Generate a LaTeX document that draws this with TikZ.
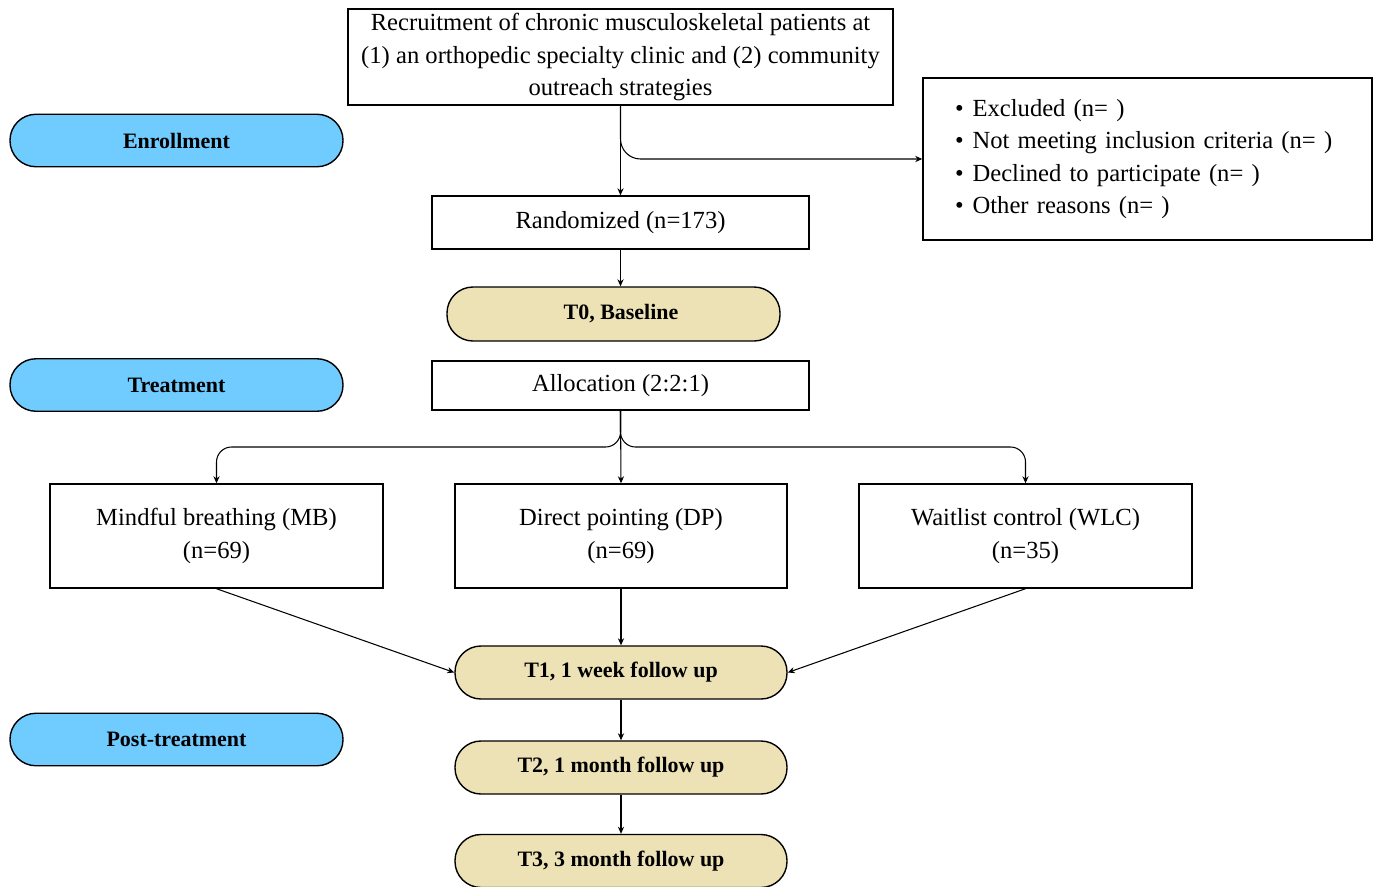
\documentclass[tikz,border=0pt]{standalone}
\usepackage{fontspec}
\setmainfont{Liberation Serif}
\usepackage{tikz}
\usetikzlibrary{arrows.meta,positioning}

\definecolor{phaseblue}{RGB}{112,203,255}
\definecolor{timetan}{RGB}{237,226,182}

\begin{document}
\begin{tikzpicture}[
  box/.style={rectangle, draw, line width=0.8pt, align=center, inner sep=0pt, font=\fontsize{14}{18.5}\selectfont},
  phase/.style={rectangle, draw, line width=0.8pt, rounded corners=0.52cm, fill=phaseblue, minimum width=6.66cm, minimum height=1.05cm, inner sep=0pt, font=\fontsize{12.5}{15}\selectfont\bfseries},
  timept/.style={rectangle, draw, line width=0.8pt, rounded corners=0.52cm, fill=timetan, minimum width=6.64cm, minimum height=1.06cm, inner sep=0pt, font=\fontsize{12.5}{15}\selectfont\bfseries},
  arr/.style={-{Stealth[length=4pt,width=3.5pt]}, line width=0.6pt}
]
\useasboundingbox (0,0) rectangle (27.52,-17.72);

% Phase labels (left column)
\node[phase] (enroll) at (3.53,-2.81) {Enrollment};
\node[phase] (treat) at (3.53,-7.70) {Treatment};
\node[phase] (post) at (3.53,-14.79) {Post-treatment};

% Enrollment
\node[box, minimum width=10.9cm, minimum height=1.92cm] (recruit) at (12.41,-1.14)
  {Recruitment of chronic musculoskeletal patients at\\(1) an orthopedic specialty clinic and (2) community\\outreach strategies};
\node[box, minimum width=8.98cm, minimum height=3.24cm, text width=7.7cm, align=left, inner xsep=0.64cm] (excl) at (22.95,-3.18)
  {\textbullet\hspace{0.18cm}Excluded (n=~)\\
   \textbullet\hspace{0.18cm}Not meeting inclusion criteria (n=~)\\
   \textbullet\hspace{0.18cm}Declined to participate (n=~)\\
   \textbullet\hspace{0.18cm}Other reasons (n=~)};
\node[box, minimum width=7.54cm, minimum height=1.06cm] (rand) at (12.41,-4.45) {Randomized (n=173)};
\node[timept, minimum width=6.66cm, minimum height=1.08cm] (t0) at (12.27,-6.28) {\hspace*{0.3cm}T0, Baseline};

% Treatment
\node[box, minimum width=7.54cm, minimum height=0.98cm] (alloc) at (12.41,-7.71) {Allocation (2:2:1)};
\node[box, minimum width=6.66cm, minimum height=2.08cm] (mb) at (4.33,-10.72) {Mindful breathing (MB)\\(n=69)};
\node[box, minimum width=6.64cm, minimum height=2.08cm] (dp) at (12.42,-10.72) {Direct pointing (DP)\\(n=69)};
\node[box, minimum width=6.66cm, minimum height=2.08cm] (wlc) at (20.51,-10.72) {Waitlist control (WLC)\\(n=35)};
\coordinate (split) at (12.42,-8.94);

% Follow up
\node[timept] (t1) at (12.42,-13.45) {T1, 1 week follow up};
\node[timept] (t2) at (12.42,-15.35) {T2, 1 month follow up};
\node[timept] (t3) at (12.42,-17.22) {T3, 3 month follow up};

% Connectors
\draw[arr] (recruit.south) -- (rand.north);
\draw[arr, rounded corners=0.4cm] (recruit.south) |- (excl.west);
\draw[arr] (rand.south) -- (rand.south |- t0.north);
\draw[arr] (alloc.south) -- (dp.north);
\draw[arr, rounded corners=0.3cm] (alloc.south) |- (split -| mb.north) -- (mb.north);
\draw[arr, rounded corners=0.3cm] (alloc.south) |- (split -| wlc.north) -- (wlc.north);
\draw[arr] (mb.south) -- (t1.west);
\draw[arr] (dp.south) -- (t1.north);
\draw[arr] (wlc.south) -- (t1.east);
\draw[arr] (t1.south) -- (t2.north);
\draw[arr] (t2.south) -- (t3.north);
\end{tikzpicture}
\end{document}
